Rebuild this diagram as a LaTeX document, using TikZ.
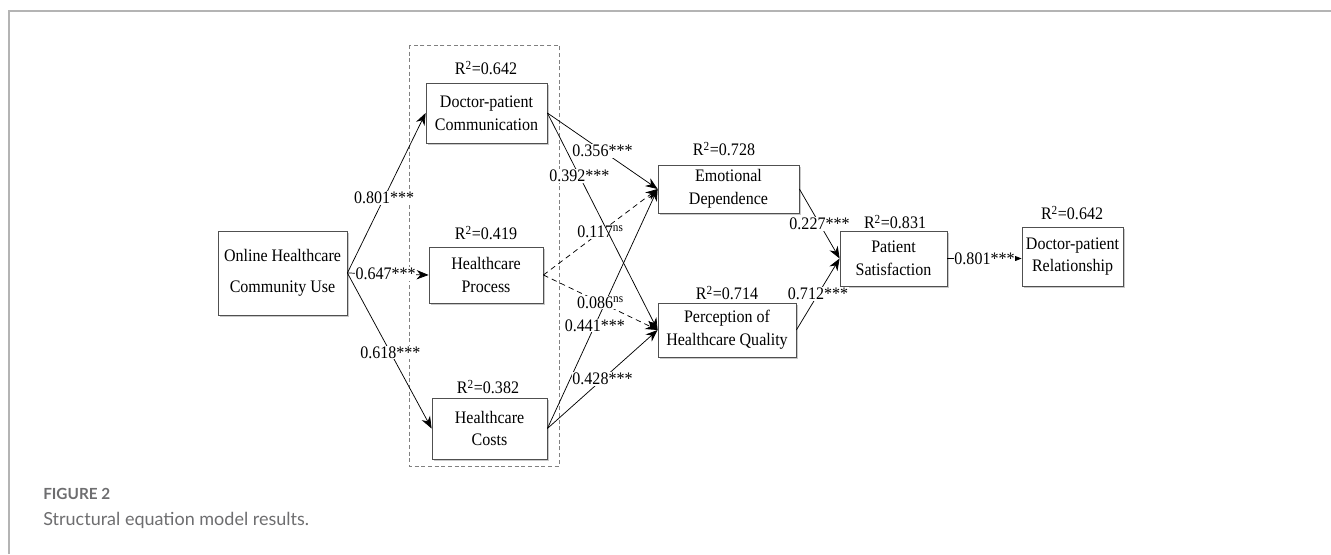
\documentclass[tikz,border=0pt]{standalone}
\usepackage{fontspec}
\setmainfont[FakeStretch=0.91]{Liberation Serif}
\newfontfamily\capfont{Lato}
\usetikzlibrary{arrows.meta,shadows}
\definecolor{framegray}{HTML}{B4B4B4}
\definecolor{capgray}{HTML}{6E6E70}
\definecolor{boxgray}{HTML}{505050}
\tikzset{
  box/.style={draw=boxgray, fill=white, line width=0.6pt, align=center, inner sep=1pt,
    font=\fontsize{13.2}{17}\selectfont,
    drop shadow={shadow xshift=1.3pt,shadow yshift=-1.3pt,opacity=0.35,fill=black!60}},
  conn/.style={draw=black, line width=0.55pt, -{Stealth[length=9pt,width=7pt]}},
  dconn/.style={conn, dash pattern=on 4pt off 3pt},
  lbl/.style={fill=white, inner sep=0.6pt, font=\fontsize{13.2}{14}\selectfont},
  rsq/.style={inner sep=0pt, font=\fontsize{13.2}{14}\selectfont},
}
\begin{document}
\begin{tikzpicture}[x=0.75pt,y=-0.75pt]
\useasboundingbox (0,0) rectangle (1331,554);
\fill[white] (0,0) rectangle (1331,554);
\draw[framegray, line width=1.5pt] (9,554) -- (9,11) -- (1331,11);
% dashed group box
\draw[black!50, line width=0.5pt, dash pattern=on 3pt off 2pt] (409,45) rectangle (559,466);
% nodes
\node[box, minimum width=96.75pt, minimum height=63pt] (on) at (282.5,273) {Online Healthcare\\[6pt]Community Use};
\node[box, minimum width=90.75pt, minimum height=45pt] (dpc) at (486.5,113) {Doctor-patient\\Communication};
\node[box, minimum width=85.5pt, minimum height=42pt] (hp) at (486,275) {Healthcare\\Process};
\node[box, minimum width=86.25pt, minimum height=45.75pt] (hc) at (489.5,428.5) {Healthcare\\Costs};
\node[box, minimum width=105.75pt, minimum height=36pt] (ed) at (728.5,189) {Emotional\\Dependence};
\node[box, minimum width=103.5pt, minimum height=40.5pt] (phq) at (727,330) {Perception of\\Healthcare Quality};
\node[box, minimum width=80.25pt, minimum height=41.25pt] (ps) at (893.5,258.5) {Patient\\Satisfaction};
\node[box, minimum width=75.75pt, minimum height=44.25pt] (dpr) at (1072.5,256.5) {Doctor-patient\\Relationship};
% R squared
\node[rsq] (r1) at (486,68) {R\textsuperscript{2}=0.642};
\node[rsq] (r2) at (486,233) {R\textsuperscript{2}=0.419};
\node[rsq] (r3) at (488,387) {R\textsuperscript{2}=0.382};
\node[rsq] (r4) at (724,149) {R\textsuperscript{2}=0.728};
\node[rsq] (r5) at (727,293) {R\textsuperscript{2}=0.714};
\node[rsq] (r6) at (895,222) {R\textsuperscript{2}=0.831};
\node[rsq] (r7) at (1072,213) {R\textsuperscript{2}=0.642};
% connectors
\draw[conn] (on.east) -- node[lbl,pos=0.47]{0.801***} (dpc.west);
\draw[conn] (on.east) -- node[lbl,pos=0.47]{0.647***} (hp.west);
\draw[conn] (on.east) -- node[lbl,pos=0.51]{0.618***} (hc.west);
\draw[conn] (hc.east) -- node[lbl,pos=0.43]{0.441***} (ed.west);
\draw[dconn] (hp.east) -- node[lbl,pos=0.5]{0.086\textsuperscript{ns}} (phq.west);
\draw[dconn] (hp.east) -- node[lbl,pos=0.5]{0.117\textsuperscript{ns}} (ed.west);
\draw[conn] (dpc.east) -- node[lbl,pos=0.5]{0.356***} (ed.west);
\draw[conn] (dpc.east) -- node[lbl,pos=0.29]{0.392***} (phq.west);
\draw[conn] (hc.east) -- node[lbl,pos=0.5]{0.428***} (phq.west);
\draw[conn] (ed.east) -- node[lbl,pos=0.5]{0.227***} (ps.west);
\draw[conn] (phq.east) -- node[lbl,pos=0.5]{0.712***} (ps.west);
\draw[conn] (ps.east) -- node[lbl,pos=0.5]{0.801***} (ps.east -| dpr.west);
% caption
\node[anchor=base west, inner sep=0, text=capgray, font=\capfont\bfseries\fontsize{11.5}{13}\selectfont] (figlbl) at (43,499) {FIGURE 2};
\node[anchor=base west, inner sep=0, text=capgray, font=\capfont\fontsize{13.5}{16}\selectfont] (figcap) at (43,525) {Structural equation model results.};
\end{tikzpicture}
\end{document}
